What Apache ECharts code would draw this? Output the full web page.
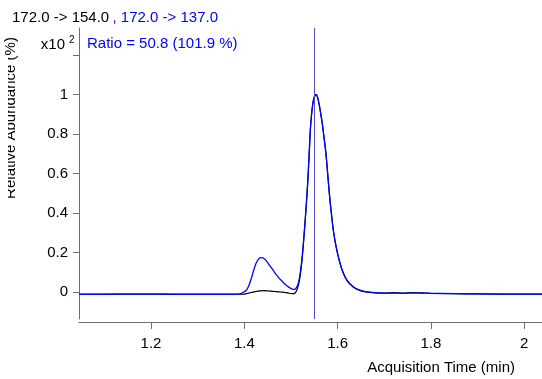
<!DOCTYPE html>
<html>
<head>
<meta charset="utf-8">
<script src="https://cdn.jsdelivr.net/npm/echarts@6/dist/echarts.min.js"></script>
<style>
  html, body { margin: 0; padding: 0; background: #fff; }
  #chart { width: 542px; height: 379px; }
</style>
</head>
<body>
<div id="chart"></div>
<script>
// acquisition time (min)
const times = [1.046, 1.10, 1.15, 1.20, 1.25, 1.30, 1.35, 1.38, 1.39, 1.395, 1.40, 1.405, 1.41, 1.415, 1.42, 1.425, 1.43, 1.435, 1.44, 1.445, 1.45, 1.455, 1.46, 1.465, 1.47, 1.475, 1.48, 1.485, 1.49, 1.495, 1.50, 1.505, 1.508, 1.512, 1.516, 1.520, 1.524, 1.527, 1.530, 1.533, 1.536, 1.539, 1.542, 1.545, 1.548, 1.551, 1.554, 1.557, 1.560, 1.563, 1.567, 1.571, 1.575, 1.579, 1.583, 1.587, 1.591, 1.596, 1.602, 1.610, 1.620, 1.633, 1.645, 1.660, 1.680, 1.700, 1.720, 1.740, 1.760, 1.780, 1.800, 1.850, 1.900, 1.950, 2.000, 2.038]
// 172.0 -> 137.0 (qualifier, blue)
const qualifier = [-0.010, -0.010, -0.009, -0.009, -0.010, -0.010, -0.010, -0.010, -0.008, -0.004, 0.003, 0.012, 0.035, 0.070, 0.110, 0.145, 0.166, 0.175, 0.174, 0.165, 0.150, 0.133, 0.118, 0.100, 0.085, 0.070, 0.058, 0.046, 0.035, 0.026, 0.019, 0.015, 0.015, 0.025, 0.048, 0.100, 0.180, 0.260, 0.350, 0.450, 0.560, 0.700, 0.840, 0.920, 0.970, 0.993, 1.000, 0.985, 0.955, 0.915, 0.855, 0.780, 0.700, 0.590, 0.480, 0.390, 0.310, 0.240, 0.175, 0.110, 0.060, 0.028, 0.012, 0.003, -0.002, -0.004, -0.004, -0.005, -0.004, -0.004, -0.005, -0.007, -0.008, -0.009, -0.009, -0.009]
// 172.0 -> 154.0 (quantifier, black)
const quantifier = [-0.010, -0.010, -0.009, -0.009, -0.010, -0.010, -0.010, -0.010, -0.010, -0.010, -0.009, -0.007, -0.004, -0.001, 0.002, 0.004, 0.006, 0.007, 0.008, 0.008, 0.007, 0.006, 0.005, 0.004, 0.003, 0.002, 0.001, 0.000, -0.002, -0.004, -0.006, -0.007, -0.005, 0.008, 0.036, 0.088, 0.170, 0.255, 0.348, 0.448, 0.558, 0.698, 0.838, 0.918, 0.969, 0.992, 0.999, 0.985, 0.955, 0.915, 0.855, 0.780, 0.700, 0.590, 0.480, 0.390, 0.310, 0.240, 0.175, 0.110, 0.060, 0.028, 0.012, 0.002, -0.003, -0.004, -0.002, -0.004, -0.001, -0.003, -0.005, -0.007, -0.008, -0.009, -0.009, -0.009]
const peakTime = 1.5537
const xTicks = [1.2, 1.4, 1.6, 1.8, 2.0]
const yTicks = [0, 0.2, 0.4, 0.6, 0.8, 1.0, 1.2]
const yLabels = [0, 0.2, 0.4, 0.6, 0.8, 1.0]

const font = 'Liberation Sans, Arial, sans-serif'
const axisGray = '#6e6e6e'

const chart = echarts.init(document.getElementById('chart'))
const option = {
  animation: false,
  grid: { left: 79, right: 0, top: 28, bottom: 60 },
  xAxis: {
    type: 'value',
    min: 1.0457,
    max: 2.038,
    offset: 3,
    axisLine: { onZero: false, lineStyle: { color: axisGray, width: 1 } },
    axisTick: { customValues: xTicks, length: 7, lineStyle: { color: axisGray } },
    axisLabel: {
      customValues: xTicks,
      margin: 14,
      color: '#000',
      fontFamily: font,
      fontSize: 15,
      formatter: v => String(v)
    },
    splitLine: { show: false }
  },
  yAxis: {
    type: 'value',
    min: -0.135,
    max: 1.336,
    axisLine: { show: true, onZero: false, lineStyle: { color: axisGray, width: 1 } },
    axisTick: { show: true, customValues: yTicks, length: 6, lineStyle: { color: axisGray } },
    axisLabel: {
      customValues: yLabels,
      margin: 11,
      color: '#000',
      fontFamily: font,
      fontSize: 15,
      formatter: v => String(v)
    },
    splitLine: { show: false }
  },
  series: [
    {
      name: '172.0 -> 154.0',
      type: 'line',
      data: times.map((t, i) => [t, quantifier[i]]),
      symbol: 'none',
      smooth: 0.3,
      lineStyle: { color: '#000', width: 1.2 }
    },
    {
      name: '172.0 -> 137.0',
      type: 'line',
      data: times.map((t, i) => [t, qualifier[i]]),
      symbol: 'none',
      smooth: 0.3,
      lineStyle: { color: '#0000ff', width: 1.3 },
      markLine: {
        silent: true,
        symbol: 'none',
        label: { show: false },
        lineStyle: { color: '#4d4dc4', width: 1, type: 'solid' },
        data: [{ xAxis: peakTime }]
      }
    }
  ],
  graphic: [
    {
      type: 'text', left: 12, top: 10,
      style: {
        text: '{k|172.0 -> 154.0} {b|, 172.0 -> 137.0}',
        rich: {
          k: { fill: '#000', font: '15px ' + font },
          b: { fill: '#0000ff', font: '15px ' + font }
        }
      }
    },
    {
      type: 'text', right: 477, top: 37,
      style: { text: 'x10', fill: '#000', font: '15px ' + font }
    },
    {
      type: 'text', left: 69, top: 35,
      style: { text: '2', fill: '#000', font: '10px ' + font }
    },
    {
      type: 'text', left: 87, top: 36,
      style: { text: 'Ratio = 50.8 (101.9 %)', fill: '#0000ff', font: '15px ' + font }
    },
    {
      type: 'text', right: 27, top: 360,
      style: { text: 'Acquisition Time (min)', fill: '#000', font: '15px ' + font }
    },
    {
      type: 'text', x: 18, y: 118, rotation: Math.PI / 2,
      style: {
        text: 'Relative Abundance (%)', fill: '#000', font: '15px ' + font,
        align: 'center', verticalAlign: 'bottom'
      }
    },
    {
      type: 'rect', shape: { x: 0, y: 56, width: 8, height: 160 },
      style: { fill: '#fff' }, z: 100
    }
  ]
}
chart.setOption(option)
</script>
</body>
</html>
